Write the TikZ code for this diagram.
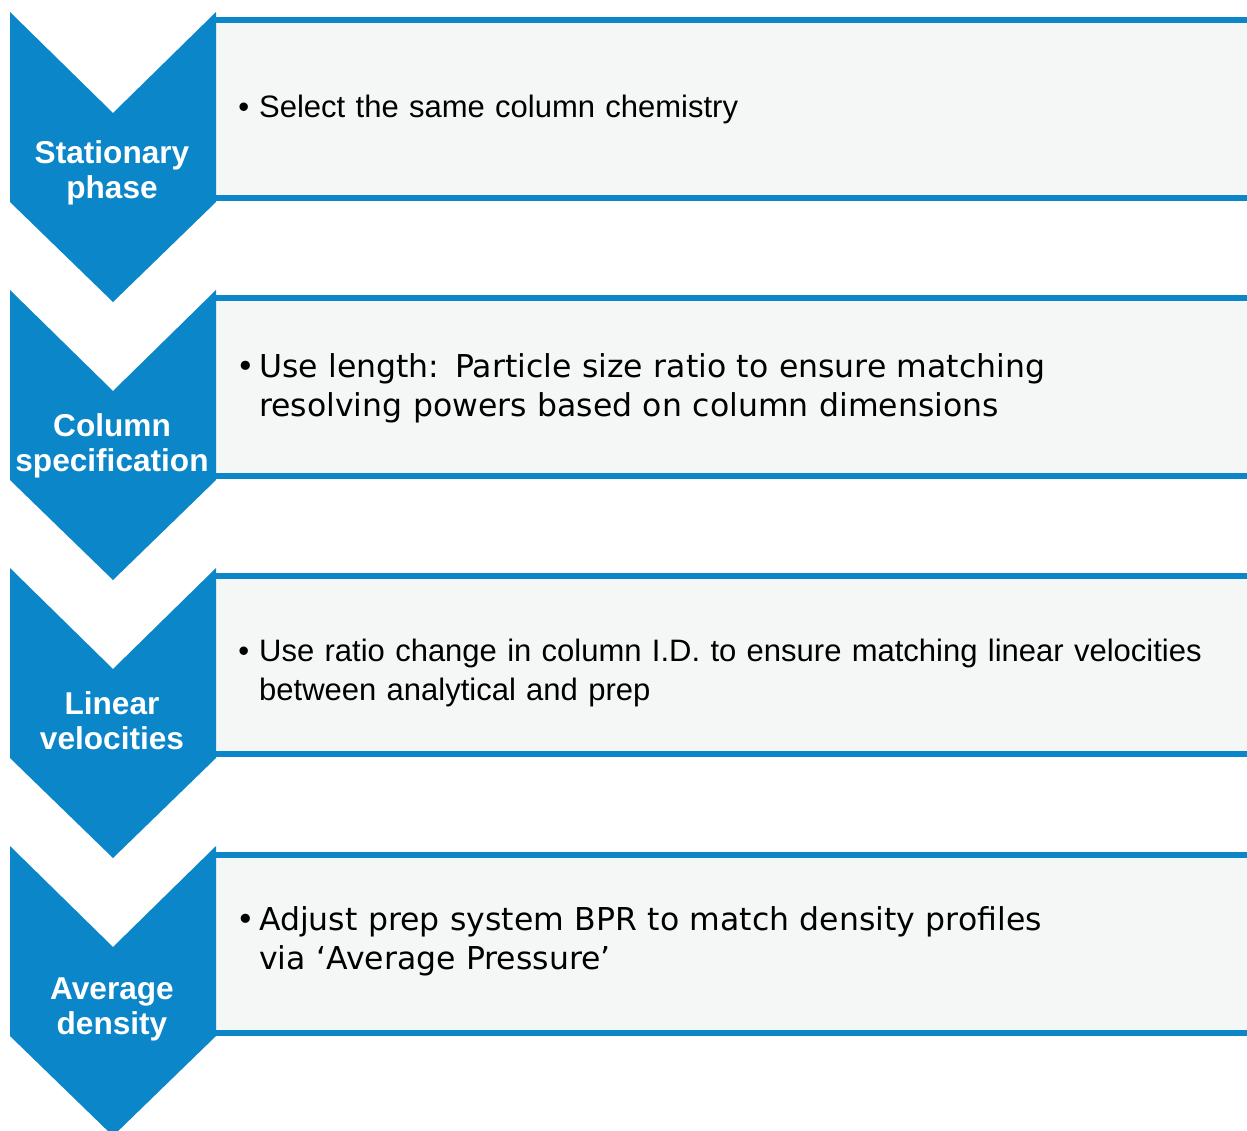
\documentclass[tikz,border=0pt]{standalone}
\usepackage{fontspec}
\setmainfont{Liberation Sans}
\newfontfamily\vfont{DejaVu Sans}
\usetikzlibrary{positioning}
\definecolor{chevblue}{HTML}{0A86C9}
\definecolor{boxgray}{HTML}{F5F7F7}
\tikzset{
  chevron/.style={fill=chevblue, draw=none},
  stepbox/.style={fill=boxgray, draw=none},
  rule/.style={draw=chevblue, line width=6pt},
  label/.style={text=white, align=center, inner sep=0pt, font=\fontsize{31.6}{35}\selectfont\bfseries},
  bullet/.style={anchor=west, inner sep=0pt, text width=980pt, align=left, font=\fontsize{31}{39}\selectfont},
  vbullet/.style={bullet, font=\fontsize{31.5}{39}\selectfont\vfont}
}
\newcommand{\bpoint}{\llap{\textbullet\hspace{10pt}}}
\newcommand{\vpoint}{\llap{\textbullet\hspace{4pt}}}

\begin{document}
\begin{tikzpicture}[x=1pt, y=-1pt]
  \useasboundingbox (0,0) rectangle (1247,1130);
  \fill[white] (0,0) rectangle (1247,1130);

  % Boxes
  \fill[stepbox] (216,20) rectangle (1247,198);
  \fill[stepbox] (216,298) rectangle (1247,476);
  \fill[stepbox] (216,576) rectangle (1247,754);
  \fill[stepbox] (216,855) rectangle (1247,1033);
  \draw[rule] (216,20) -- (1247,20);
  \draw[rule] (216,198) -- (1247,198);
  \draw[rule] (216,298) -- (1247,298);
  \draw[rule] (216,476) -- (1247,476);
  \draw[rule] (216,576) -- (1247,576);
  \draw[rule] (216,754) -- (1247,754);
  \draw[rule] (216,855) -- (1247,855);
  \draw[rule] (216,1033) -- (1247,1033);

  % Chevrons
  \fill[chevron] (10,12) -- (113,113) -- (216,12) -- (216,202) -- (113,302) -- (10,202) -- cycle;
  \fill[chevron] (10,290) -- (113,391) -- (216,290) -- (216,480) -- (113,580) -- (10,480) -- cycle;
  \fill[chevron] (10,568) -- (113,669) -- (216,568) -- (216,758) -- (113,858) -- (10,758) -- cycle;
  \fill[chevron] (10,846) -- (113,947) -- (216,846) -- (216,1036) -- (113,1136) -- (10,1036) -- cycle;

  % Step labels
  \node (stationary) [label] at (112,173) {Stationary\\phase};
  \node (column) [label] at (112,446) {Column\\specification};
  \node (linear) [label] at (112,721) {Linear\\velocities};
  \node (average) [label] at (112,1009) {Average\\density};

  % Bullet texts
  \node (chemistry) [bullet] at (259,109) {\bpoint Select the same column chemistry};
  \node (ratio) [vbullet] at (259,388) {\vpoint Use length: Particle size ratio to ensure matching\\resolving powers based on column dimensions};
  \node (velocity) [bullet] at (259,673) {\bpoint Use ratio change in column I.D. to ensure matching linear velocities\\between analytical and prep};
  \node (density) [vbullet] at (259,941) {\vpoint Adjust prep system BPR to match density profiles\\via ‘Average Pressure’};
\end{tikzpicture}
\end{document}
